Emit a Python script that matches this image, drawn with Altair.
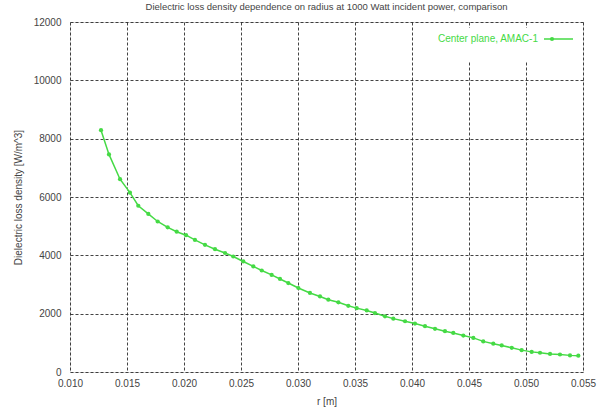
import altair as alt
import pandas as pd

title_text = "Dielectric loss density dependence on radius at 1000 Watt incident power, comparison"
series_name = "Center plane, AMAC-1"

r_values = [0.01272, 0.01342, 0.01439, 0.01526, 0.01599, 0.01687, 0.01769, 0.01857,
            0.01936, 0.02018, 0.02096, 0.02184, 0.02272, 0.02360, 0.02432, 0.02520,
            0.02608, 0.02682, 0.02769, 0.02842, 0.02915, 0.03003, 0.03105, 0.03193,
            0.03266, 0.03354, 0.03441, 0.03515, 0.03603, 0.03675, 0.03763, 0.03836,
            0.03939, 0.04026, 0.04114, 0.04202, 0.04289, 0.04362, 0.04450, 0.04538,
            0.04625, 0.04713, 0.04787, 0.04875, 0.04962, 0.05050, 0.05123, 0.05211,
            0.05298, 0.05386, 0.05459]
density_values = [8290, 7460, 6610, 6150, 5700, 5420, 5160, 4960,
                  4810, 4690, 4530, 4360, 4210, 4080, 3960, 3790,
                  3620, 3480, 3330, 3190, 3050, 2880, 2710, 2590,
                  2480, 2390, 2270, 2190, 2110, 2020, 1910, 1830,
                  1740, 1660, 1570, 1480, 1400, 1340, 1250, 1170,
                  1050, 970, 910, 830, 750, 690, 660, 620,
                  600, 570, 560]

x_ticks = [0.010, 0.015, 0.020, 0.025, 0.030, 0.035, 0.040, 0.045, 0.050, 0.055]
y_ticks = [0, 2000, 4000, 6000, 8000, 10000, 12000]

df = pd.DataFrame({"r": r_values, "d": density_values})

GREEN = "#45da45"
FONT = "Liberation Sans"
TEXT = "#444444"

common = dict(grid=True, gridColor="#222222", gridDash=[3, 2], gridWidth=1,
              gridOpacity=0.85, ticks=False, domain=False,
              labelFont=FONT, labelFontSize=10, labelColor=TEXT,
              titleFont=FONT, titleFontSize=10, titleColor=TEXT,
              titleFontWeight="normal")

x_enc = alt.X("r:Q", title="r [m]",
              scale=alt.Scale(domain=[0.010, 0.055], nice=False, zero=False),
              axis=alt.Axis(values=x_ticks, format=".3f", labelPadding=6,
                            titlePadding=8, labelFlush=False, **common))
y_enc = alt.Y("d:Q", title="Dielectric loss density [W/m^3]",
              scale=alt.Scale(domain=[0, 12000], nice=False),
              axis=alt.Axis(values=y_ticks, format="d", labelPadding=9,
                            titlePadding=10, **common))

leg_df = pd.DataFrame({"t": [series_name]})
# white key box hiding the grid behind the legend, as gnuplot does
key_box = alt.Chart(leg_df).mark_rect(color="white").encode(
    x=alt.value(345), x2=alt.value(511), y=alt.value(6), y2=alt.value(40))

base = alt.Chart(df).encode(x=x_enc, y=y_enc)
line = base.mark_line(color=GREEN, strokeWidth=1.5)
pts = base.mark_point(color=GREEN, filled=True, size=18, opacity=1, shape="circle")

leg_text = alt.Chart(leg_df).mark_text(align="right", baseline="middle", color=GREEN,
                                       font=FONT, fontSize=10).encode(
    x=alt.value(468), y=alt.value(17), text="t:N")
leg_line = alt.Chart(leg_df).mark_rule(color=GREEN, strokeWidth=1.5).encode(
    x=alt.value(474), x2=alt.value(503), y=alt.value(17))
leg_pt = alt.Chart(leg_df).mark_point(color=GREEN, filled=True, size=18, opacity=1).encode(
    x=alt.value(482), y=alt.value(17))

chart = alt.layer(key_box, line, pts, leg_text, leg_line, leg_pt).properties(
    width=513, height=350,
    title=alt.TitleParams(title_text, fontSize=9.5, font=FONT, color=TEXT,
                          fontWeight="normal", offset=6),
    autosize=alt.AutoSizeParams(type="none"),
    padding={"left": 70, "top": 22, "right": 18, "bottom": 41},
).configure_view(
    stroke="#8a8a8a", strokeWidth=1.5
).configure(background="white")

chart.save("out.html", embed_options={"renderer": "svg", "actions": False})
